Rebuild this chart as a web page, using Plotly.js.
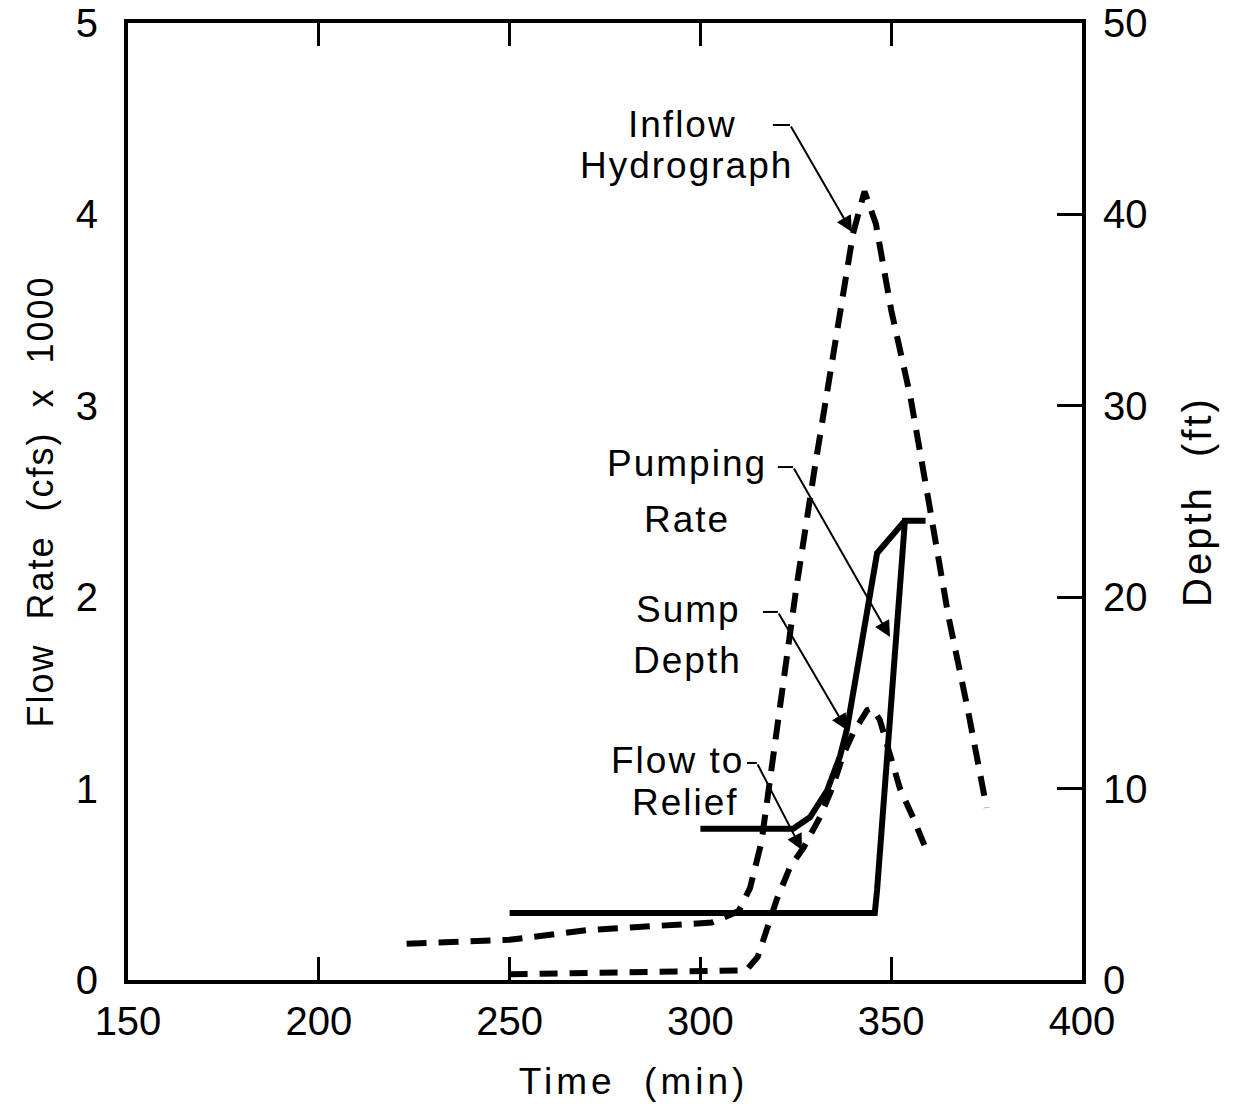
<!DOCTYPE html>
<html>
<head>
<meta charset="utf-8">
<script src="https://cdn.plot.ly/plotly-3.0.1.min.js"></script>
<style>
  html, body { margin: 0; padding: 0; background: #fff; }
  #chart { width: 1235px; height: 1105px; }
  .xtitle { letter-spacing: 4px; }
  .ytitle { letter-spacing: 2px; }
  .y2title { letter-spacing: 3px; }
  .annotation-text { letter-spacing: 2px; }
</style>
</head>
<body>
<div id="chart"></div>
<script>
// ---- data ----
const inflowTime  = [223, 250, 270, 303, 310, 313, 316, 320, 325, 330, 335, 340, 343, 346, 350, 355, 360, 365, 370, 375];
const inflowFlow  = [0.19, 0.21, 0.26, 0.30, 0.36, 0.48, 0.72, 1.30, 2.03, 2.68, 3.27, 3.90, 4.12, 3.95, 3.50, 3.05, 2.48, 1.90, 1.42, 0.90];

const pumpTime = [250, 345.7, 346.3, 353.6, 359];
const pumpFlow = [0.35, 0.35, 0.47, 2.40, 2.40];

const sumpTime  = [300, 324.3, 328.7, 333.2, 336.6, 338.4, 346.3, 353.6];
const sumpDepth = [7.9, 7.9, 8.5, 9.9, 11.7, 13.1, 22.3, 24.0];

const reliefTime = [250, 312, 315, 317.5, 320, 323.5, 327, 331.3, 334.7, 337.3, 340, 343.7, 345, 347, 349.7, 352.3, 355.7, 359.4];
const reliefFlow = [0.03, 0.05, 0.12, 0.26, 0.42, 0.59, 0.69, 0.85, 1.01, 1.17, 1.29, 1.41, 1.42, 1.36, 1.17, 1.00, 0.85, 0.67];

const xTicks  = [150, 200, 250, 300, 350, 400];
const yTicks  = [0, 1, 2, 3, 4, 5];
const y2Ticks = [0, 10, 20, 30, 40, 50];

// label lines: text, x, y (flow axis units)
const labelText = ["Inflow", "Hydrograph", "Pumping", "Rate", "Sump", "Depth", "Flow to", "Relief"];
const labelX    = [295.4, 296.4, 296.4, 296.6, 297.0, 296.7, 294.0, 296.2];
const labelY    = [4.468, 4.254, 2.696, 2.406, 1.936, 1.669, 1.149, 0.930];

// leaders: short horizontal segment start/end, then arrow to tip
const leadX0 = [319.0, 320.3, 316.4, 312.2];
const leadX1 = [323.5, 324.3, 320.3, 314.8];
const leadY  = [4.467, 2.680, 1.923, 1.134];
const tipX   = [339.7, 349.7, 338.4, 326.6];
const tipY   = [3.908, 1.792, 1.306, 0.679];

const FONT = "Liberation Sans, Arial, sans-serif";

const traces = [
  { x: inflowTime, y: inflowFlow, mode: "lines", name: "Inflow Hydrograph",
    line: { color: "#000", width: 6, dash: "20px,12px" }, xaxis: "x", yaxis: "y" },
  { x: pumpTime, y: pumpFlow, mode: "lines", name: "Pumping Rate",
    line: { color: "#000", width: 6 }, xaxis: "x", yaxis: "y" },
  { x: sumpTime, y: sumpDepth, mode: "lines", name: "Sump Depth",
    line: { color: "#000", width: 6 }, xaxis: "x", yaxis: "y2" },
  { x: reliefTime, y: reliefFlow, mode: "lines", name: "Flow to Relief",
    line: { color: "#000", width: 6, dash: "18px,12px" }, xaxis: "x", yaxis: "y" }
];

const annotations = [];
labelText.forEach((t, i) => {
  annotations.push({ x: labelX[i], y: labelY[i], xref: "x", yref: "y", text: t,
    showarrow: false, xanchor: "center", yanchor: "middle",
    font: { family: FONT, size: 37, color: "#000" } });
});
tipX.forEach((tx, i) => {
  annotations.push({ x: tx, y: tipY[i], xref: "x", yref: "y",
    ax: leadX1[i], ay: leadY[i], axref: "x", ayref: "y", text: "",
    showarrow: true, arrowhead: 2, arrowsize: 1.6, arrowwidth: 2, arrowcolor: "#000", standoff: 0 });
});

const shapes = leadX0.map((x0, i) => ({
  type: "line", xref: "x", yref: "y", x0: x0, x1: leadX1[i], y0: leadY[i], y1: leadY[i],
  line: { color: "#000", width: 2 }
}));

const layout = {
  width: 1235, height: 1105,
  margin: { l: 128, r: 153, t: 23, b: 125 },
  paper_bgcolor: "#fff", plot_bgcolor: "#fff",
  showlegend: false,
  font: { family: FONT, size: 40, color: "#000" },
  xaxis: {
    range: [150, 400], tickvals: xTicks, ticktext: xTicks.map(String),
    ticks: "inside", ticklen: 23, tickwidth: 3, tickcolor: "#000",
    showline: true, linewidth: 4, linecolor: "#000", mirror: "ticks",
    showgrid: false, zeroline: false, ticklabelstandoff: 3,
    tickfont: { family: FONT, size: 40 },
    title: { text: "&nbsp;&nbsp;&nbsp;&nbsp;Time  (min)", font: { family: FONT, size: 37 }, standoff: 27 }
  },
  yaxis: {
    range: [0, 5], tickvals: yTicks, ticktext: yTicks.map(String),
    ticks: "", showline: true, linewidth: 4, linecolor: "#000",
    showgrid: false, zeroline: false, ticklabelstandoff: 18,
    tickfont: { family: FONT, size: 40 },
    title: { text: "Flow  Rate  (cfs)  x  1000", font: { family: FONT, size: 36 }, standoff: 12 }
  },
  yaxis2: {
    range: [0, 50], tickvals: y2Ticks, ticktext: y2Ticks.map(String),
    overlaying: "y", side: "right",
    ticks: "inside", ticklen: 25, tickwidth: 3, tickcolor: "#000",
    showline: true, linewidth: 4, linecolor: "#000",
    showgrid: false, zeroline: false, ticklabelstandoff: 9,
    tickfont: { family: FONT, size: 40 },
    title: { text: "Depth  (ft)", font: { family: FONT, size: 40 }, standoff: 37 }
  },
  annotations: annotations,
  shapes: shapes
};

Plotly.newPlot("chart", traces, layout, { staticPlot: true, displayModeBar: false });
</script>
</body>
</html>
